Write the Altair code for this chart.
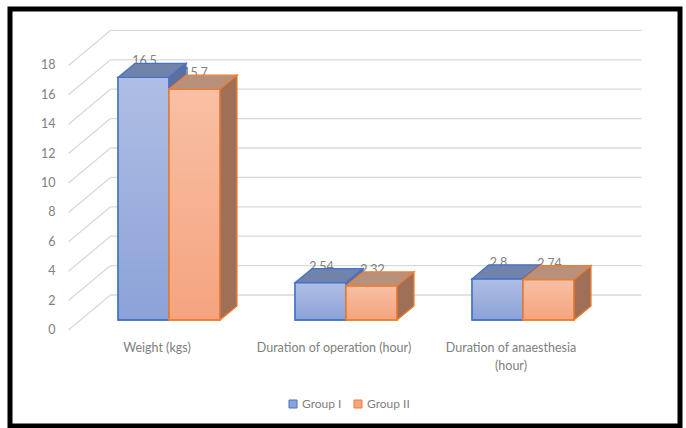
import altair as alt
import pandas as pd

# ---- chart values -------------------------------------------------------
categories = ["Weight (kgs)", "Duration of operation (hour)", "Duration of anaesthesia\n(hour)"]
group_names = ["Group I", "Group II"]
group_1 = [16.5, 2.54, 2.8]
group_2 = [15.7, 2.32, 2.74]
y_ticks = [0, 2, 4, 6, 8, 10, 12, 14, 16, 18]

# ---- styling ------------------------------------------------------------
FONT = "Lato"
TEXT = "#808080"
GRID = "#d9d9d9"
BAR_W = 0.288        # width of one bar, in category units
DEPTH_X = 0.096      # how far a bar recedes to the right (category units)
DEPTH_Y = 0.952      # how far a bar recedes upwards (value units)

STYLE = {
    "Group I": dict(fill="#8ca2d8", edge="#4472c4", top="#7283ab", side="#5d6f9e"),
    "Group II": dict(fill="#f5a47e", edge="#ed7d31", top="#b8917d", side="#9f6f57"),
}

X_DOMAIN = [-0.5, len(categories) - 0.5]
X = alt.Scale(domain=X_DOMAIN, range=[70.5, 601.5], nice=False, zero=False)
Y = alt.Scale(domain=[0, 18], range=[311, 46.4], nice=False, zero=False)

# ---- tables -------------------------------------------------------------
rows, tops, sides = [], [], []
for i, cat in enumerate(categories):
    for g, (name, vals) in enumerate(zip(group_names, [group_1, group_2])):
        v = vals[i]
        x0 = i - BAR_W + g * BAR_W
        x1 = x0 + BAR_W
        rows.append(dict(category=cat, idx=i, group=name, value=v, label=f"{v:g}",
                         x0=x0, x1=x1, xc=(x0 + x1) / 2))
        bar_id = f"{name}-{i}"
        # top face: front edge at the value, back edge pushed up/right
        tops.append(dict(bar=bar_id, group=name, ty=v, ta=x0, tb=x1))
        tops.append(dict(bar=bar_id, group=name, ty=v + DEPTH_Y,
                         ta=x0 + DEPTH_X, tb=x1 + DEPTH_X))
        # right side face
        sides.append(dict(bar=bar_id, group=name, sx=x1, sa=0.0, sb=v))
        sides.append(dict(bar=bar_id, group=name, sx=x1 + DEPTH_X,
                          sa=DEPTH_Y, sb=v + DEPTH_Y))

bars = pd.DataFrame(rows)
top_df = pd.DataFrame(tops)
side_df = pd.DataFrame(sides)
tick_df = pd.DataFrame({"tick": y_ticks, "label": [str(t) for t in y_ticks]})
cat_df = pd.DataFrame({"idx": list(range(len(categories))), "category": categories})

edge = alt.datum(X_DOMAIN[0])
edge_r = alt.datum(X_DOMAIN[1])

# ---- walls --------------------------------------------------------------
back_grid = alt.Chart(tick_df).mark_rule(
    color=GRID, strokeWidth=1.3,
    xOffset=30, x2Offset=30, yOffset=-25, y2Offset=-25,
).encode(
    x=alt.X(datum=X_DOMAIN[0], scale=X, axis=None),
    x2=edge_r,
    y=alt.Y("tick:Q", scale=Y, axis=None),
    y2="tick:Q",
)

side_grid = alt.Chart(tick_df).mark_rule(
    color=GRID, strokeWidth=1.3,
    xOffset=-12, x2Offset=30, yOffset=10, y2Offset=-25,
).encode(
    x=alt.X(datum=X_DOMAIN[0], scale=X, axis=None),
    x2=edge,
    y=alt.Y("tick:Q", scale=Y, axis=None),
    y2="tick:Q",
)

tick_labels = alt.Chart(tick_df).mark_text(
    align="right", baseline="middle", dx=-25, dy=10,
    font=FONT, fontSize=12.5, color=TEXT,
).encode(
    x=alt.X(datum=X_DOMAIN[0], scale=X, axis=None),
    y=alt.Y("tick:Q", scale=Y, axis=None),
    text="label:N",
)

cat_labels = alt.Chart(cat_df).mark_text(
    align="center", baseline="top", dx=-12, dy=22, lineBreak="\n",
    lineHeight=17.5, font=FONT, fontSize=12.5, color=TEXT,
).encode(
    x=alt.X("idx:Q", scale=X, axis=None),
    y=alt.Y(datum=0, scale=Y, axis=None),
    text="category:N",
)

value_labels = alt.Chart(bars).mark_text(
    align="center", baseline="middle", dx=1, dy=-16,
    font=FONT, fontSize=12.5, color=TEXT,
).encode(
    x=alt.X("xc:Q", scale=X, axis=None),
    y=alt.Y("value:Q", scale=Y, axis=None),
    text="label:N",
)

# ---- bars ---------------------------------------------------------------
legend = alt.Legend(
    title=None, orient="none", legendX=277, legendY=389, direction="horizontal",
    symbolType="square", symbolSize=64, symbolStrokeWidth=1,
    labelFont=FONT, labelFontSize=12, labelColor=TEXT,
    labelOffset=3, columnPadding=10,
)
fill_scale = alt.Scale(domain=group_names, range=[STYLE[g]["fill"] for g in group_names])
edge_scale = alt.Scale(domain=group_names, range=[STYLE[g]["edge"] for g in group_names])

shine = alt.Gradient(
    gradient="linear", x1=0, x2=0, y1=0, y2=1,
    stops=[alt.GradientStop(color="rgba(255,255,255,0.3)", offset=0),
           alt.GradientStop(color="rgba(255,255,255,0)", offset=1)],
)

bar_layers = []
for name in group_names:
    st = STYLE[name]
    front = alt.Chart(bars).transform_filter(alt.datum.group == name).mark_rect(
        strokeWidth=1.3, opacity=1,
    ).encode(
        x=alt.X("x0:Q", scale=X, axis=None),
        x2="x1:Q",
        y=alt.Y("value:Q", scale=Y, axis=None),
        y2=alt.datum(0),
        color=alt.Color("group:N", scale=fill_scale, legend=legend),
        stroke=alt.Stroke("group:N", scale=edge_scale, legend=legend),
    )
    gloss = alt.Chart(bars).transform_filter(alt.datum.group == name).mark_rect(
        fill=shine, stroke=st["edge"], strokeWidth=1.3,
    ).encode(
        x=alt.X("x0:Q", scale=X, axis=None),
        x2="x1:Q",
        y=alt.Y("value:Q", scale=Y, axis=None),
        y2=alt.datum(0),
    )
    top = alt.Chart(top_df).transform_filter(alt.datum.group == name).mark_area(
        orient="horizontal", fill=st["top"], fillOpacity=1,
        stroke=st["edge"], strokeWidth=1.3,
    ).encode(
        y=alt.Y("ty:Q", scale=Y, axis=None),
        x=alt.X("ta:Q", scale=X, axis=None),
        x2="tb:Q",
        detail="bar:N",
    )
    side = alt.Chart(side_df).transform_filter(alt.datum.group == name).mark_area(
        orient="vertical", fill=st["side"], fillOpacity=1,
        stroke=st["edge"], strokeWidth=1.3,
    ).encode(
        x=alt.X("sx:Q", scale=X, axis=None),
        y=alt.Y("sa:Q", scale=Y, axis=None),
        y2="sb:Q",
        detail="bar:N",
    )
    bar_layers += [front, gloss, top, side]

chart = alt.layer(
    back_grid, side_grid, tick_labels, cat_labels, value_labels, *bar_layers
).properties(
    width=670, height=417,
    padding={"left": 10, "top": 9, "right": 6, "bottom": 2},
    autosize=alt.AutoSizeParams(type="none"),
    background="white",
).configure_view(
    stroke="black", strokeWidth=5,
)

chart.save("out.html", embed_options={"renderer": "svg", "actions": False})
